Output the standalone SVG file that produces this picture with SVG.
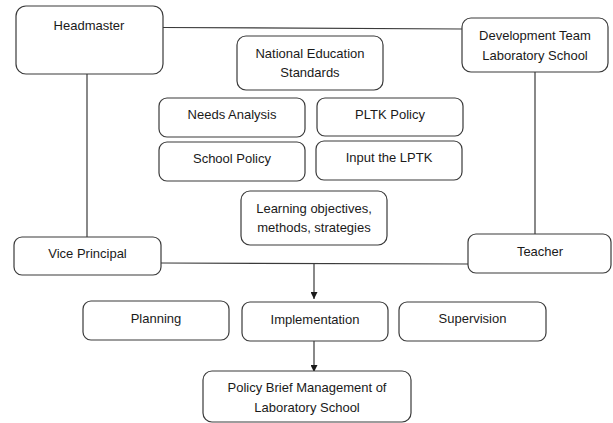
<svg xmlns="http://www.w3.org/2000/svg" width="613" height="423" viewBox="0 0 613 423">
  <style>
    .box { fill: #ffffff; stroke: #3a3a3a; stroke-width: 1.2; }
    .lbl { font-family: "Liberation Sans", Arial, sans-serif; font-size: 13px; fill: #1a1a1a; text-anchor: middle; }
    .wire { fill: none; stroke: #3a3a3a; stroke-width: 1.2; }
  </style>
  <defs>
    <marker id="arrow" viewBox="0 0 10 10" refX="10" refY="5" markerWidth="7" markerHeight="7" markerUnits="userSpaceOnUse" orient="auto">
      <path d="M0,0 L10,5 L0,10 z" fill="#1a1a1a"/>
    </marker>
  </defs>
  <rect width="613" height="423" fill="#ffffff"/>

  <!-- connectors -->
  <g id="connectors">
    <path class="wire" d="M163,27.5 L462,29"/>
    <path class="wire" d="M87,74 L87,237"/>
    <path class="wire" d="M535,72 L535,234"/>
    <path class="wire" d="M161,263 L468,264"/>
    <path class="wire" d="M314,263.5 L314,299" marker-end="url(#arrow)"/>
    <path class="wire" d="M314,341 L314,372" marker-end="url(#arrow)"/>
  </g>

  <g id="headmaster">
    <rect class="box" x="16" y="6" width="147" height="68" rx="10"/>
    <text class="lbl" x="89" y="29.5">Headmaster</text>
  </g>
  <g id="development-team">
    <rect class="box" x="462" y="18" width="146" height="54" rx="9"/>
    <text class="lbl" x="535" y="39.5">Development Team</text>
    <text class="lbl" x="535" y="59.5">Laboratory School</text>
  </g>
  <g id="national-standards">
    <rect class="box" x="237" y="36" width="146" height="54" rx="9"/>
    <text class="lbl" x="310" y="57.5">National Education</text>
    <text class="lbl" x="310" y="76.5">Standards</text>
  </g>
  <g id="needs-analysis">
    <rect class="box" x="159" y="98" width="146" height="39" rx="8"/>
    <text class="lbl" x="232" y="118.5">Needs Analysis</text>
  </g>
  <g id="pltk-policy">
    <rect class="box" x="317" y="98" width="146" height="38" rx="8"/>
    <text class="lbl" x="390" y="118.5">PLTK Policy</text>
  </g>
  <g id="school-policy">
    <rect class="box" x="159" y="142" width="146" height="39" rx="8"/>
    <text class="lbl" x="232" y="162.5">School Policy</text>
  </g>
  <g id="input-lptk">
    <rect class="box" x="316" y="141" width="146" height="39" rx="8"/>
    <text class="lbl" x="389" y="161.5">Input the LPTK</text>
  </g>
  <g id="learning-objectives">
    <rect class="box" x="241" y="191" width="146" height="54" rx="9"/>
    <text class="lbl" x="314" y="212.5">Learning objectives,</text>
    <text class="lbl" x="314" y="231.5">methods, strategies</text>
  </g>
  <g id="vice-principal">
    <rect class="box" x="14" y="237" width="147" height="38" rx="8"/>
    <text class="lbl" x="87.5" y="257.5">Vice Principal</text>
  </g>
  <g id="teacher">
    <rect class="box" x="468" y="234" width="143" height="39" rx="8"/>
    <text class="lbl" x="540" y="255.5">Teacher</text>
  </g>
  <g id="planning">
    <rect class="box" x="83" y="301" width="146" height="39" rx="8"/>
    <text class="lbl" x="156" y="322.5">Planning</text>
  </g>
  <g id="implementation">
    <rect class="box" x="242" y="302" width="146" height="39" rx="8"/>
    <text class="lbl" x="315" y="323.5">Implementation</text>
  </g>
  <g id="supervision">
    <rect class="box" x="399" y="302" width="147" height="39" rx="8"/>
    <text class="lbl" x="472.5" y="322.5">Supervision</text>
  </g>
  <g id="policy-brief">
    <rect class="box" x="203" y="371" width="208" height="51" rx="9"/>
    <text class="lbl" x="307" y="391.5">Policy Brief Management of</text>
    <text class="lbl" x="307" y="411.5">Laboratory School</text>
  </g>
</svg>
